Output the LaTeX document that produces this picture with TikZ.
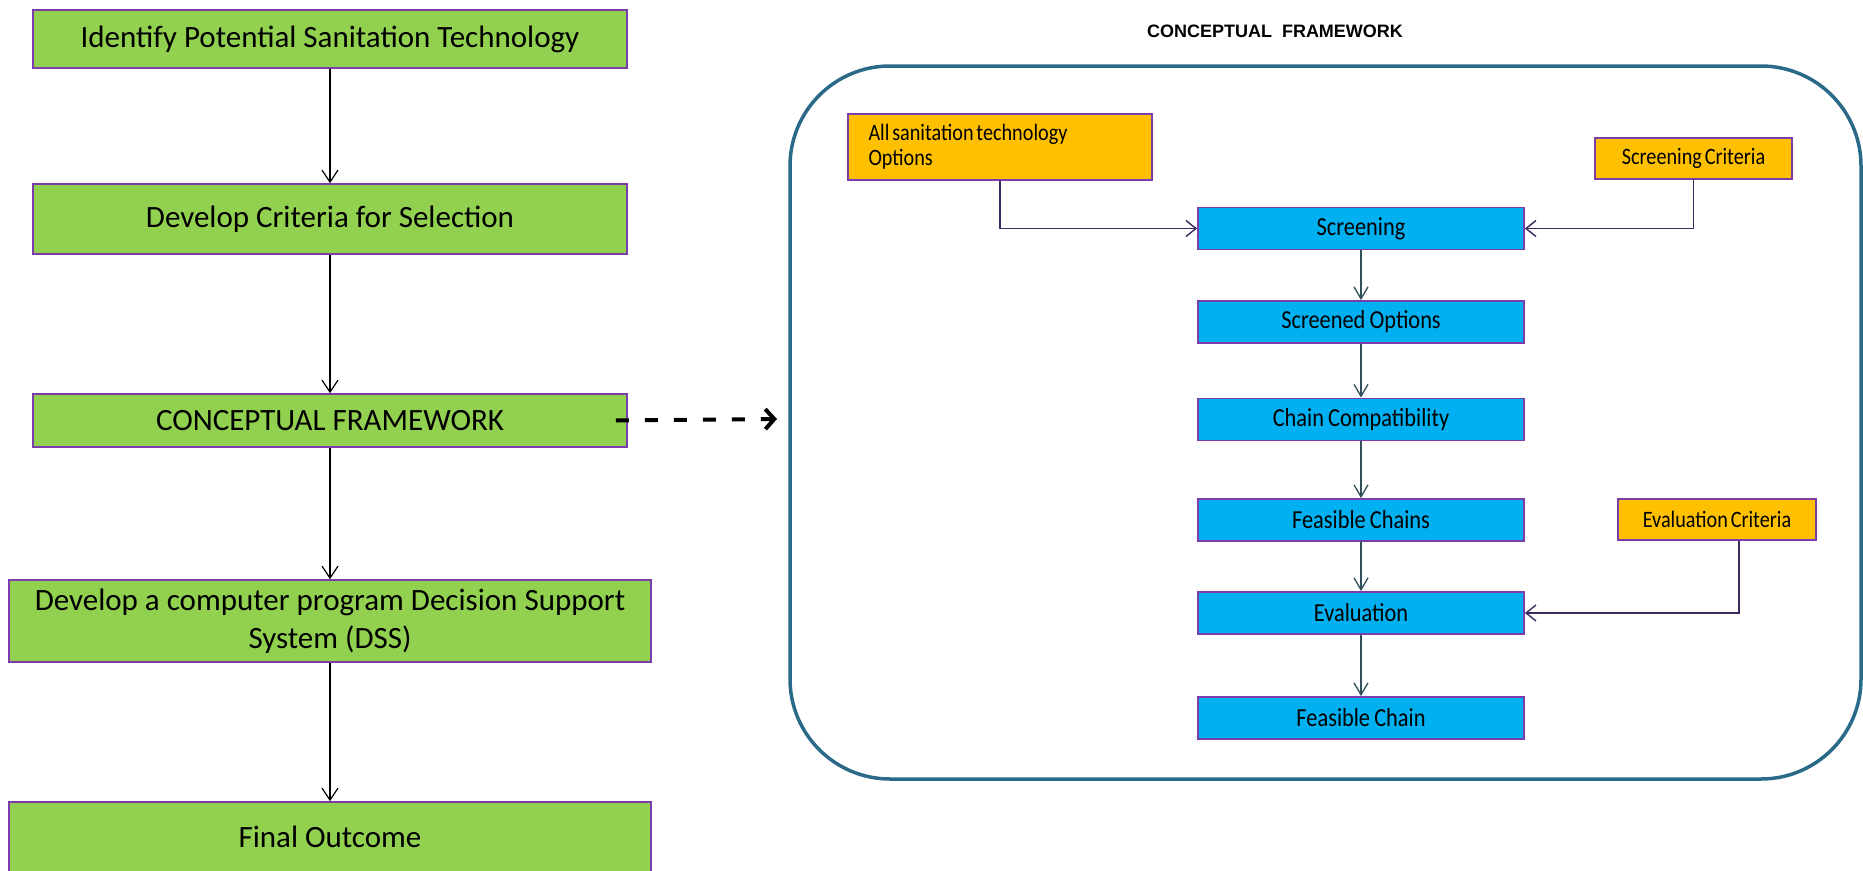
\documentclass[tikz,border=0pt]{standalone}
\usepackage{fontspec}
\setmainfont{Carlito}
\newfontfamily\condfont{Carlito}[FakeStretch=0.86]
\newfontfamily\titlefont{Liberation Sans}
\newcommand\bluetxt{\condfont\fontsize{26}{30}\selectfont\spaceskip=0.16em\relax}
\newcommand\orangetxt{\condfont\fontsize{23.5}{25}\selectfont\spaceskip=0.12em\relax}
\usetikzlibrary{arrows.meta,positioning,calc}
\definecolor{gfill}{HTML}{92D050}
\definecolor{bfill}{HTML}{00B0F0}
\definecolor{ofill}{HTML}{FFC000}
\definecolor{bord}{HTML}{7A3DAA}
\definecolor{framec}{HTML}{2A6A88}
\definecolor{vline}{HTML}{2F5058}
\definecolor{hline}{HTML}{3E2A5E}
\tikzset{
  gbox/.style={draw=bord, fill=gfill, line width=1.6pt, minimum width=594pt, inner sep=0pt, align=center, font=\fontsize{31}{37.5}\selectfont},
  bbox/.style={draw=bord, fill=bfill, line width=1.8pt, minimum width=326pt, minimum height=42pt, inner sep=0pt, font=\bluetxt},
  obox/.style={draw=bord, fill=ofill, line width=1.8pt, inner sep=0pt, font=\orangetxt},
  larrow/.style={black, line width=1.2pt, -{Straight Barb[length=12pt,width=16pt]}},
  varrow/.style={vline, line width=1.3pt, -{Straight Barb[length=12pt,width=14pt]}},
  harrow/.style={hline, line width=1.4pt, -{Straight Barb[length=10pt,width=16pt]}},
}
\begin{document}
\begin{tikzpicture}[x=1pt,y=-1pt]
\useasboundingbox (0,0) rectangle (1863,870);
% left column
\node[gbox, minimum height=58pt] (b1) at (330,39) {Identify Potential Sanitation Technology};
\node[gbox, minimum height=70pt] (b2) at (330,219) {Develop Criteria for Selection};
\node[gbox, minimum height=53pt] (b3) at (330,420.5) {CONCEPTUAL FRAMEWORK};
\node[gbox, minimum width=642pt, minimum height=82pt] (b4) at (330,621) {Develop a computer program Decision Support\\System (DSS)};
\node[gbox, minimum width=642pt, minimum height=70pt] (b5) at (330,837) {Final Outcome};
\draw[larrow] (b1) -- (b2);
\draw[larrow] (b2) -- (b3);
\draw[larrow] (b3) -- (b4);
\draw[larrow] (b4) -- (b5);
% title
\node[font=\titlefont\bfseries\fontsize{18}{21}\selectfont] (title) at (1275,31) {CONCEPTUAL\ \ FRAMEWORK};
% frame
\node[draw=framec, line width=3.5pt, rounded corners=100pt, minimum width=1071pt, minimum height=713pt, inner sep=0pt] (frame) at (1325.5,422.5) {};
% dashed arrow
\coordinate (dend) at (777,419);
\draw[black, line width=4pt, dash pattern=on 13pt off 16pt, -{Straight Barb[length=9pt,width=20pt]}] ([xshift=-12pt]b3.east) -- (dend);
% inner flow
\node[bbox] (scr) at (1361,228.5) {Screening};
\node[bbox] (so) at (1361,322) {Screened Options};
\node[bbox] (cc) at (1361,419.5) {Chain Compatibility};
\node[bbox] (fcs) at (1361,520) {Feasible Chains};
\node[bbox] (ev) at (1361,613) {Evaluation};
\node[bbox] (fc) at (1361,718) {Feasible Chain};
\node[obox, minimum width=304pt, minimum height=66pt, align=left] (opt) at (1000,147) {All sanitation technology\hspace*{64pt}\\Options};
\node[obox, minimum width=197pt, minimum height=41pt] (sc) at (1693.5,158.5) {Screening Criteria};
\node[obox, minimum width=198pt, minimum height=41pt] (ec) at (1717,519.5) {Evaluation Criteria};
\draw[varrow] (scr) -- (so);
\draw[varrow] (so) -- (cc);
\draw[varrow] (cc) -- (fcs);
\draw[varrow] (fcs) -- (ev);
\draw[varrow] (ev) -- (fc);
\draw[harrow] (opt.south) |- (scr.west);
\draw[harrow] (sc.south) |- (scr.east);
\draw[harrow] ([xshift=22pt]ec.south) |- (ev.east);
\end{tikzpicture}
\end{document}
